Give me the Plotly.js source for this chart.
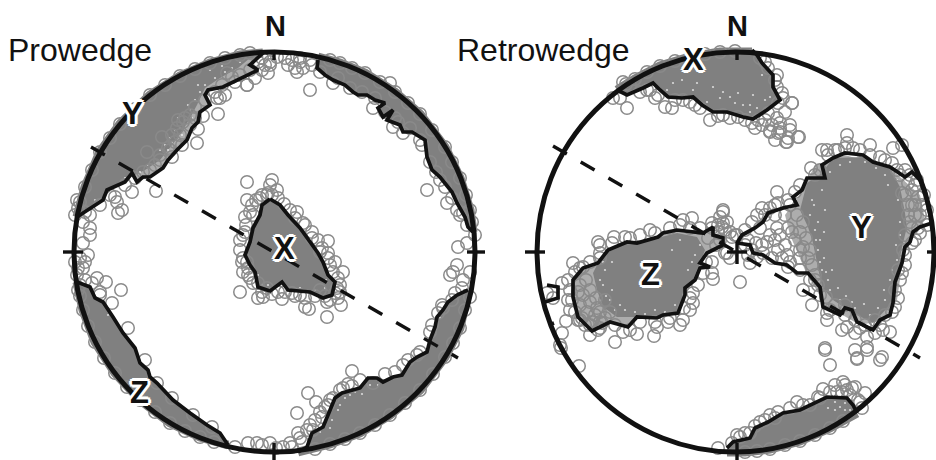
<!DOCTYPE html>
<html><head><meta charset="utf-8">
<script src="https://cdn.plot.ly/plotly-3.0.1.min.js"></script>
<style>html,body{margin:0;padding:0;background:#fff}#c{width:936px;height:460px}</style>
</head><body><div id="c"></div>
<script>
const leftYLine=[[77,217],[90,208],[103,200],[107,190],[125,182],[132,173],[137,182],[143,177],[150,177],[163,168],[168,160],[177,150],[187,140],[192,128],[198,122],[200,112],[210,105],[205,95],[208,90],[223,87],[233,82],[252,73],[258,70],[250,65],[258,57],[263,53]];
const leftYRim=[[263,53],[240,55],[210,63],[180,76],[150,95],[120,124],[100,152],[85,187],[77,217]];
const leftYCore=[[77,217],[103,197],[125,180],[145,170],[160,160],[172,145],[183,130],[190,118],[197,105],[205,88],[220,78],[238,68],[250,58],[210,63],[180,76],[150,95],[120,124],[100,152],[85,187]];
const leftNELine=[[318,60],[317,68],[325,75],[333,80],[345,85],[353,92],[358,95],[367,95],[375,100],[385,103],[378,108],[383,117],[393,110],[387,120],[400,125],[403,132],[412,132],[425,140],[427,157],[432,170],[440,177],[452,192],[457,203],[465,217],[468,227],[473,232]];
const leftNERim=[[473,232],[470,210],[460,178],[445,147],[420,114],[395,92],[365,73],[340,63],[318,57]];
const leftXLine=[[270,199],[262,205],[260,215],[253,228],[250,242],[245,255],[250,265],[255,272],[258,287],[270,291],[282,282],[288,290],[310,292],[323,298],[332,295],[335,282],[328,275],[323,262],[318,253],[310,242],[300,228],[288,215],[280,205],[270,199]];
const leftZLine=[[77,282],[90,287],[95,298],[103,302],[113,317],[123,333],[135,348],[140,363],[148,370],[150,377],[157,383],[173,400],[190,413],[207,425],[220,433],[228,445]];
const leftZRim=[[228,445],[200,437],[170,423],[140,400],[115,373],[95,342],[83,310],[77,282]];
const leftSELine=[[468,290],[457,295],[448,302],[443,310],[437,317],[435,327],[430,340],[427,352],[417,357],[410,362],[402,375],[393,377],[383,382],[377,378],[368,378],[360,388],[342,393],[335,398],[328,415],[323,427],[312,433],[307,447],[298,452]];
const leftSERim=[[298,452],[330,444],[360,433],[390,415],[420,390],[445,357],[460,328],[468,290]];
const rightXLine=[[617,90],[627,95],[643,88],[653,83],[660,90],[668,97],[682,98],[693,97],[702,105],[713,112],[727,112],[743,117],[753,119],[767,110],[780,100],[773,87],[773,75],[762,63],[757,55],[752,50]];
const rightXRim=[[752,52],[720,52],[690,57],[660,66],[635,79],[617,90]];
const rightYLine=[[737,243],[742,235],[755,228],[763,222],[768,213],[783,208],[797,205],[793,197],[802,190],[807,178],[825,178],[822,165],[833,158],[845,153],[863,155],[873,162],[890,167],[905,177],[912,172],[920,180],[925,191],[932,223],[920,227],[913,232],[910,242],[905,247],[902,263],[895,282],[893,303],[890,315],[880,320],[873,330],[857,322],[852,310],[845,308],[840,315],[823,307],[820,287],[808,273],[797,273],[787,265],[775,263],[763,255],[753,253],[750,245],[737,243]];
const rightYMesh=[[815,165],[845,155],[890,168],[920,195],[925,220],[905,245],[897,300],[885,320],[860,325],[825,305],[805,270],[790,235],[785,215],[800,195]];
const rightYCore=[[833,158],[863,157],[890,168],[900,187],[905,213],[907,227],[902,247],[895,282],[892,303],[873,323],[853,313],[833,300],[822,287],[817,263],[813,243],[808,227],[800,210],[807,183],[822,173]];
const rightZLine=[[723,245],[723,238],[713,235],[713,227],[703,233],[677,230],[663,233],[658,237],[637,243],[627,242],[608,250],[598,263],[583,268],[573,280],[573,297],[578,317],[592,331],[610,322],[628,327],[637,317],[657,318],[663,315],[678,313],[685,295],[685,288],[695,280],[700,268],[710,267],[700,263],[707,253],[723,245]];
const rightZCore=[[608,252],[627,243],[657,238],[677,233],[697,237],[705,250],[700,263],[693,280],[683,292],[680,310],[663,317],[637,317],[617,317],[603,307],[597,290],[593,273],[598,263]];
const rightSLine=[[727,448],[733,442],[750,438],[755,428],[768,422],[783,413],[800,410],[815,403],[827,397],[847,398],[853,405],[857,413]];
const rightSRim=[[857,413],[830,428],[800,441],[770,449],[745,452],[727,452]];
const rightBitA=[[547,285],[558,287],[558,298],[545,302]];
const rightBitB=[[549,325],[554,323]];

const leftRings=[[132,192],[115,197],[117,202],[122,210],[118,213],[156,191],[150,170],[160,160],[172,157],[170,150],[182,145],[197,143],[198,129],[218,114],[203,116],[185,118],[177,128],[162,137],[147,152],[220,98],[225,95],[217,98],[247,85],[227,73],[235,82],[268,73],[265,65],[77,200],[75,215],[90,215],[83,222],[90,228],
[310,90],[333,83],[427,190],[447,203],[373,108],[393,127],[403,133],[420,140],[440,180],[457,210],[463,213],[297,72],[292,60],[300,62],[310,60],[285,58],[277,57],[320,72],[247,85],[390,83],
[247,182],[272,180],[270,185],[277,190],[247,200],[245,217],[240,292],[243,272],[242,262],[240,240],[253,283],[258,298],[263,297],[282,299],[300,295],[305,307],[309,309],[327,317],[327,302],[341,305],[337,288],[343,272],[335,262],[328,253],[328,241],[312,232],[297,212],[303,223],[253,215],[260,198],[267,195],[245,232],[248,275],[340,285],[267,288],[292,293],[320,290],[335,293],[320,252],
[121,290],[97,278],[106,282],[112,303],[128,328],[145,360],[90,235],[83,243],[75,262],[85,262],[77,275],[100,292],[248,443],[257,443],[270,443],[235,447],[157,383],[193,415],[172,398],[212,427],
[308,393],[316,402],[297,413],[352,371],[343,388],[352,386],[373,383],[385,374],[403,365],[417,355],[430,332],[438,313],[443,308],[452,300],[298,433],[307,430],[313,430],[290,443],[283,447],[325,407],[322,417],[333,398],[450,275],[457,265],[453,272],[463,280],[470,272],[458,247],[467,243],[475,235],[470,297]];
const leftRingsDense=[[252,205],[256,200],[262,195],[268,193],[250,212],[246,225],[243,235],[240,250],[243,258],[247,262],[248,268],[250,278],[258,283],[262,292],[272,294],[278,292],[285,292],[295,296],[305,298],[315,296],[325,296],[330,300],[338,298],[340,292],[338,278],[333,272],[330,265],[328,258],[322,248],[318,240],[312,238],[305,225],[295,218],[290,210],[284,204],[278,198],[272,195],
[180,135],[175,142],[168,148],[160,155],[155,165],[143,172],[183,122],[190,115],[195,107],[205,100],[215,92],[222,85],[232,77],[240,75],[250,70],[258,62],[262,70],[270,62],[255,78],[100,205],[110,195],[125,185],[135,178],[85,212],[78,208],[190,125],[195,118],[172,135],[178,120],
[262,58],[270,65],[288,65],[295,68],[303,68],[312,65],[300,58],
[338,78],[350,88],[362,92],[375,98],[385,112],[395,118],[410,128],[430,162],[436,172],[445,187],[452,198],[460,215],[467,225],[398,122],[422,145],
[80,285],[85,280],[92,283],[100,295],[78,290],[88,255],[80,258],[78,268],[83,268],
[320,412],[328,405],[340,390],[348,384],[360,380],[395,372],[408,360],[420,352],[432,325],[442,305],[455,293],[462,288],[330,400],[315,420],[310,425],[300,438],[292,447],[302,442],[276,448],[262,445]];
const rightRings=[[627,108],[620,98],[613,98],[665,107],[672,108],[695,105],[710,120],[738,117],[752,123],[762,125],[770,131],[778,133],[786,142],[798,137],[792,103],[783,98],[777,87],[777,75],[765,62],[780,128],[777,118],[780,123],[788,138],[683,100],[723,115],[647,90],[658,95],[623,82],
[740,282],[735,235],[777,192],[778,203],[762,208],[770,208],[757,215],[777,228],[788,228],[767,242],[785,245],[778,250],[787,255],[800,250],[788,267],[763,253],[812,305],[803,290],[827,313],[827,320],[842,330],[847,327],[855,333],[867,337],[875,333],[890,332],[895,307],[883,330],[867,347],[825,348],[855,350],[882,357],[857,358],[811,168],[822,150],[827,150],[835,150],[847,135],[847,143],[870,145],[853,148],[880,157],[893,148],[902,145],[892,163],[917,180],[902,193],[918,197],[912,205],[927,210],[908,215],[910,222],[920,233],[927,225],[905,265],[902,273],[912,243],[792,103],[787,142],[799,137],[780,132],[770,132],[723,210],[723,223],[725,253],
[797,215],[803,222],[800,232],[806,238],[795,240],[803,247],[810,250],[800,258],[812,265],[808,258],[815,275],[810,280],[818,285],[826,297],[835,305],[845,305],[855,320],[865,325],[875,320],[885,315],[908,205],[915,215],[905,195],[912,190],[900,175],[908,183],[915,205],[920,215],[912,228],[905,235],[903,250],[898,270],[895,290],
[598,242],[614,237],[573,263],[575,272],[562,283],[553,298],[547,293],[568,300],[570,310],[566,321],[562,333],[560,345],[561,348],[579,366],[615,342],[623,332],[637,334],[654,336],[680,325],[683,320],[690,310],[693,303],[693,293],[713,279],[712,273],[712,262],[727,253],[692,218],[683,220],[680,225],[650,230],[640,235],[625,237],[600,253],[583,267],[580,320],[602,323],[657,327],[668,322],[712,223],[720,217],[727,222],[723,212],[722,227],[737,235],[752,250],[750,263],[732,237],
[580,285],[586,280],[590,290],[583,295],[590,302],[580,305],[587,312],[595,315],[600,322],[592,322],[585,325],[578,292],[596,298],[600,312],[605,318],
[830,365],[857,359],[825,350],[880,360],[867,350],[843,382],[835,385],[823,389],[855,387],[865,393],[860,402],[797,402],[778,412],[770,415],[760,422],[755,426],[745,433],[737,435],[718,448],[732,443],[818,397],[837,392],[847,390],[803,405]];
const rightRingsDense=[[630,85],[640,92],[650,90],[655,98],[675,100],[690,102],[700,108],[718,116],[730,118],[745,120],[758,120],[768,113],[778,103],[782,93],[775,80],[768,68],[760,58],[785,112],[772,125],[765,120],[755,128],[790,125],[775,140],[790,130],
[828,155],[838,150],[845,148],[860,150],[870,155],[885,160],[897,170],[910,175],[820,170],[815,175],[800,185],[795,192],[788,200],[775,205],[765,215],[752,222],[745,230],[760,228],[775,215],[790,205],[785,215],[780,235],[775,240],[792,232],[772,258],[782,258],[790,262],[800,270],[815,280],[820,295],[830,310],[845,315],[860,328],[880,325],[892,312],[898,298],[900,280],[905,255],[915,240],[918,228],[922,205],[924,195],[915,185],[905,170],[756,243],[748,255],[762,245],[770,235],
[600,245],[612,243],[630,238],[655,233],[670,228],[690,228],[700,228],[708,238],[716,245],[718,232],[706,262],[703,273],[698,285],[690,298],[684,308],[670,318],[655,322],[640,322],[630,330],[615,325],[600,328],[590,325],[578,320],[572,300],[570,290],[568,280],[580,268],[590,262],[600,258],[605,300],[597,308],[610,312],[575,312],[582,318],[598,330],[590,335],
[740,437],[750,433],[765,420],[775,418],[790,408],[810,405],[820,398],[830,392],[842,392],[850,395],[858,400],[862,408],[852,388],[845,385],
[718,225],[725,230],[730,232],[712,228],[720,240],[745,245],[757,257],[748,240],[730,258]];
const rimRings=[[250,53],[225,58],[195,69],[165,85],[135,109],[110,138],[92,170],[80,202],[240,55],[210,63],[180,76],[150,95],[120,124],[100,152],[85,187],
[330,60],[352,68],[380,82],[408,103],[432,130],[452,162],[466,195],[472,222],[470,210],[460,178],[445,147],[420,114],[395,92],[365,73],[340,63],
[80,296],[88,326],[104,358],[127,387],[155,412],[185,431],[214,442],[200,437],[170,423],[140,400],[115,373],[95,342],[83,310],
[315,449],[345,439],[375,425],[405,403],[433,374],[453,343],[465,310],[330,444],[360,433],[390,415],[420,390],[445,357],[460,328],
[735,51],[705,54],[675,61],[647,72],[626,84],[720,52],[690,57],[660,66],[635,79],
[843,421],[815,435],[785,445],[757,451],[830,428],[800,441],[770,449],[745,452]];
const specks=[[165,145],[170,138],[175,130],[180,128],[185,120],[190,110],[195,100],[200,92],[205,85],[215,78],[225,72],[232,68],[240,62],[178,118],[188,105],[198,85],[160,150],[148,165],[140,172],[125,178],[110,190],[95,200],[172,142],[182,135],[192,118],[210,70],[222,66],[168,150],
[440,300],[435,312],[432,325],[425,340],[415,350],[400,365],[385,375],[370,385],[355,392],[345,398],[338,410],[332,420],[320,432],[440,318],[428,333],[410,358],[378,385],[362,394],[340,405],[330,428],[350,395],[395,372],
[673,83],[682,80],[693,90],[707,102],[720,98],[730,97],[735,103],[750,112],[757,108],[765,100],[770,97],[762,75],[723,92],[743,105],[753,95],[713,87],[667,90],[697,83],[738,93],[750,105],
[835,402],[840,407],[845,410],[850,410],[835,410],[845,403],[828,408],
[262,285],[268,285],[300,288],[315,290],[325,288],[258,275],[326,280],
[810,215],[815,230],[818,250],[822,270],[830,290],[840,300],[855,308],[870,315],[885,300],[890,280],[897,260],[900,235],[898,200],[885,175],[865,162],[840,165],[822,190],[812,200],[825,210],[820,240],[828,280],
[814,205],[818,222],[824,232],[816,240],[824,258],[820,262],[832,270],[826,272],[838,288],[846,296],[852,302],[864,304],[878,308],[884,290],[892,270],[896,245],[900,222],[897,180],[888,185],[876,168],[850,162],[830,172],
[605,270],[612,290],[620,305],[635,312],[655,310],[675,305],[688,270],[695,255],[680,240],[700,245],[610,300],[603,285],[625,310],[672,250],[692,262],[600,280],[606,296],[615,310],[603,262],[612,262],[645,314],[665,312],
[92,292],[100,300],[108,315],[96,295]];

const leftDashes=[[91,147],[458,358]];
const rightDashes=[[553,146],[920,358]];
const ticks=[[[274,50],[274,60]],[[274,443],[274,460]],[[63,252],[83,252]],[[467,252],[485,252]],
[[737,50],[737,60]],[[737,443],[737,460]],[[525,252],[545,252]],[[927,252],[936,252]],[[727,252],[747,252]],[[737,242],[737,264]]];
const panelTitles=[["Prowedge",7,50],["Retrowedge",456,50]];
const northLabels=[["N",275,26],["N",737,26]];
const axisLetters=[["Y",132,113],["X",284,248],["Z",139,392],["X",693,59],["Y",861,227],["Z",650,274]];
const nets=[[74,52,475,452],[537,52,934,452]];

const GREY='#808080',LIGHT='#adadad',BLACK='#111111',RING='#8a8a8a';
const xs=p=>p.map(a=>a[0]), ys=p=>p.map(a=>a[1]);
const traces=[];
function fillT(p,c){c=c||GREY;traces.push({x:xs(p),y:ys(p),mode:'lines',fill:'toself',fillcolor:c,line:{width:0,color:c},hoverinfo:'skip'});}
function rimT(p){traces.push({x:xs(p),y:ys(p),mode:'lines',line:{width:9,color:GREY},hoverinfo:'skip'});}
function lineT(p,w,dash){traces.push({x:xs(p),y:ys(p),mode:'lines',line:{width:w,color:BLACK,dash:dash||'solid'},hoverinfo:'skip'});}
fillT(leftYLine.concat(leftYRim),LIGHT);fillT(leftYCore);rimT(leftYRim);
[[leftNELine,leftNERim],[leftZLine,leftZRim],[leftSELine,leftSERim],[rightXLine,rightXRim],[rightSLine,rightSRim]].forEach(([l,r])=>{fillT(l.concat(r));rimT(r);});
fillT(leftXLine);
fillT(rightYMesh,LIGHT);fillT(rightYCore);fillT(rightZLine,LIGHT);fillT(rightZCore);
traces.push({x:xs(specks),y:ys(specks),mode:'markers',marker:{symbol:'circle',size:2.2,color:'#ffffff',opacity:.7},hoverinfo:'skip'});
[leftRings,leftRingsDense,rightRings,rightRingsDense,rimRings].forEach(p=>traces.push({x:xs(p),y:ys(p),mode:'markers',marker:{symbol:'circle-open',size:12.5,color:RING,line:{width:1.5,color:RING}},hoverinfo:'skip'}));
[leftYLine,leftNELine,leftXLine,leftZLine,leftSELine,rightXLine,rightYLine,rightZLine,rightSLine,rightBitA,rightBitB].forEach(p=>lineT(p,3.7));
lineT(leftDashes,3.4,'16px,16px');lineT(rightDashes,3.4,'16px,16px');
ticks.forEach(p=>lineT(p,3.4));

const halo='3px 0 0 #fff,-3px 0 0 #fff,0 3px 0 #fff,0 -3px 0 #fff,2px 2px 0 #fff,-2px 2px 0 #fff,2px -2px 0 #fff,-2px -2px 0 #fff';
const ann=[];
panelTitles.forEach(t=>ann.push({text:t[0],x:t[1],y:t[2],xref:'x',yref:'y',xanchor:'left',yanchor:'middle',showarrow:false,borderpad:0,font:{family:'Liberation Sans',size:32,color:BLACK}}));
northLabels.forEach(t=>ann.push({text:'<b>'+t[0]+'</b>',x:t[1],y:t[2],xref:'x',yref:'y',xanchor:'center',yanchor:'middle',showarrow:false,font:{family:'Liberation Sans',size:29,color:BLACK}}));
axisLetters.forEach(t=>ann.push({text:'<b>'+t[0]+'</b>',x:t[1],y:t[2],xref:'x',yref:'y',xanchor:'center',yanchor:'middle',showarrow:false,font:{family:'Liberation Sans',size:31,color:BLACK,shadow:halo}}));

Plotly.newPlot('c',traces,{
 width:936,height:460,margin:{l:0,r:0,t:0,b:0},showlegend:false,hovermode:false,
 paper_bgcolor:'#fff',plot_bgcolor:'#fff',
 xaxis:{range:[0,936],visible:false,fixedrange:true},
 yaxis:{range:[460,0],visible:false,fixedrange:true},
 shapes:nets.map(n=>({type:'circle',xref:'x',yref:'y',x0:n[0],y0:n[1],x1:n[2],y1:n[3],layer:'above',line:{color:BLACK,width:5}})),
 annotations:ann
},{displayModeBar:false,staticPlot:true});
</script></body></html>
